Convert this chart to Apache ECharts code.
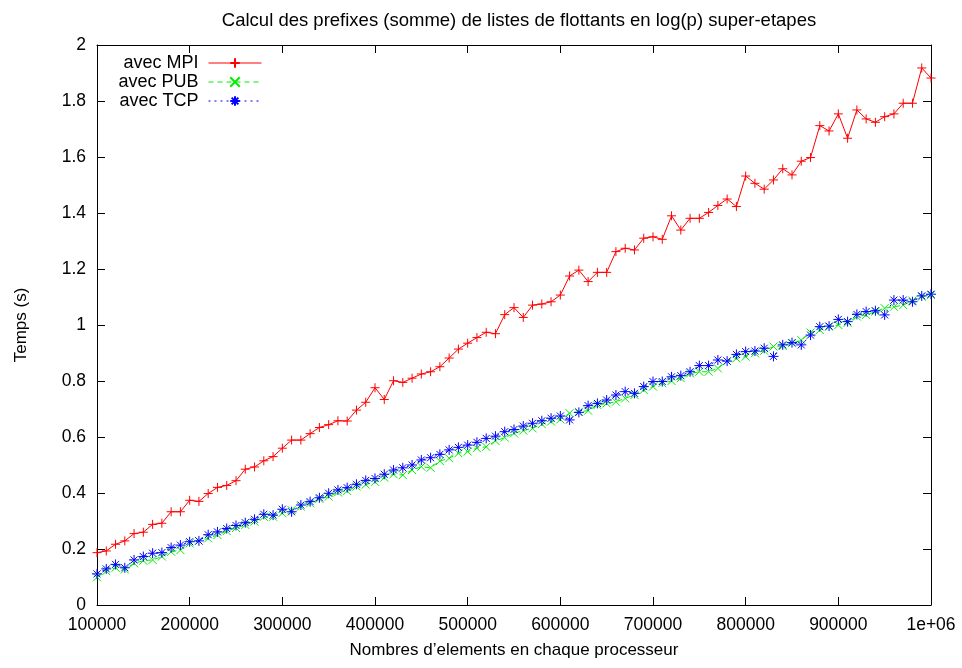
<!DOCTYPE html>
<html>
<head>
<meta charset="utf-8">
<script src="https://cdn.jsdelivr.net/npm/echarts@6/dist/echarts.min.js"></script>
<style>
html,body{margin:0;padding:0;background:#fff;}
#chart{width:962px;height:668px;}
</style>
</head>
<body>
<div id="chart"></div>
<script>
var titleText = "Calcul des prefixes (somme) de listes de flottants en log(p) super-etapes";
var xAxisName = "Nombres d\u2019elements en chaque processeur";
var yAxisName = "Temps (s)";
var seriesNames = ["avec MPI", "avec PUB", "avec TCP"];

// x positions: 100000 .. 1000000 step 10000
var xValues = [];
for (var k = 0; k <= 90; k++) xValues.push(100000 + 10000 * k);

var mpi = [0.187,0.193,0.217,0.229,0.255,0.260,0.288,0.292,0.333,0.333,
0.374,0.370,0.398,0.420,0.427,0.444,0.485,0.493,0.515,0.530,
0.560,0.589,0.589,0.612,0.634,0.644,0.658,0.657,0.696,0.724,
0.776,0.734,0.801,0.795,0.810,0.825,0.833,0.851,0.882,0.914,
0.935,0.955,0.974,0.969,1.037,1.062,1.027,1.071,1.075,1.083,
1.107,1.175,1.196,1.155,1.188,1.188,1.262,1.274,1.268,1.310,
1.315,1.306,1.390,1.339,1.381,1.381,1.402,1.427,1.450,1.423,
1.532,1.506,1.485,1.518,1.558,1.536,1.585,1.598,1.712,1.693,
1.754,1.667,1.768,1.736,1.724,1.744,1.754,1.792,1.792,1.918,
1.882];

var pub = [0.099,0.121,0.133,0.127,0.149,0.158,0.161,0.173,0.190,0.196,
0.220,0.229,0.238,0.250,0.264,0.275,0.286,0.298,0.315,0.315,
0.328,0.339,0.351,0.363,0.379,0.387,0.402,0.407,0.423,0.430,
0.440,0.455,0.467,0.464,0.482,0.494,0.490,0.514,0.524,0.542,
0.548,0.560,0.565,0.586,0.598,0.613,0.623,0.631,0.646,0.655,
0.663,0.685,0.690,0.694,0.714,0.720,0.726,0.738,0.750,0.768,
0.780,0.792,0.800,0.810,0.827,0.833,0.833,0.845,0.871,0.881,
0.887,0.899,0.908,0.923,0.925,0.935,0.946,0.973,0.982,0.994,
1.000,1.008,1.030,1.036,1.048,1.060,1.065,1.071,1.087,1.101,
1.107];

var tcp = [0.111,0.129,0.145,0.133,0.161,0.173,0.185,0.187,0.205,0.214,
0.226,0.229,0.251,0.261,0.273,0.284,0.294,0.306,0.324,0.321,
0.342,0.333,0.357,0.369,0.383,0.399,0.411,0.419,0.431,0.445,
0.452,0.467,0.482,0.490,0.500,0.518,0.526,0.538,0.554,0.563,
0.571,0.581,0.595,0.603,0.619,0.627,0.639,0.649,0.658,0.667,
0.675,0.661,0.688,0.712,0.720,0.732,0.750,0.762,0.756,0.780,
0.798,0.798,0.815,0.819,0.833,0.855,0.855,0.875,0.871,0.895,
0.905,0.907,0.917,0.888,0.929,0.937,0.929,0.964,0.994,0.996,
1.020,1.012,1.038,1.048,1.051,1.036,1.089,1.089,1.083,1.104,
1.110];

function pairs(ys){ return xValues.map(function(x,i){ return [x, ys[i]]; }); }

var FONT = "'Liberation Sans', Arial, Helvetica, sans-serif";
var FS = 18;
var colors = ['#ff0000', '#00ee00', '#0000ff'];
var symbols = [
  'path://M5,0L5,10M0,5L10,5',
  'path://M0,0L10,10M10,0L0,10',
  'path://M5,0L5,10M0,5L10,5M1.5,1.5L8.5,8.5M8.5,1.5L1.5,8.5'
];
var dashes = ['solid', [5,4], [2,4]];
var symSizes = [9, 8, 10];
var dataSets = [mpi, pub, tcp];

var chart = echarts.init(document.getElementById('chart'), null, {renderer:'canvas'});

function axisCommon(){
  return {
    axisLine:{show:true, onZero:false, lineStyle:{color:'#000', width:1}},
    axisTick:{show:true, inside:true, length:8, lineStyle:{color:'#000', width:1}},
    splitLine:{show:false}
  };
}

var xMain = Object.assign(axisCommon(), {
  type:'value', position:'bottom', min:100000, max:1000000, interval:100000,
  name:xAxisName, nameLocation:'middle', nameGap:37,
  nameTextStyle:{fontFamily:FONT, fontSize:FS-1, color:'#000'},
  axisLabel:{show:true, margin:11, fontFamily:FONT, fontSize:FS-0.5, color:'#000',
    formatter:function(v){ return v >= 1000000 ? '1e+06' : String(v); }}
});
var xTop = Object.assign(axisCommon(), {
  type:'value', position:'top', min:100000, max:1000000, interval:100000,
  axisLabel:{show:false}
});
var yMain = Object.assign(axisCommon(), {
  type:'value', position:'left', min:0, max:2, interval:0.2,
  name:yAxisName, nameLocation:'middle', nameGap:67, nameRotate:90,
  nameTextStyle:{fontFamily:FONT, fontSize:FS-1, color:'#000'},
  axisLabel:{show:true, margin:11, fontFamily:FONT, fontSize:FS-0.5, color:'#000',
    formatter:function(v){ return String(Math.round(v*10)/10); }}
});
var yRight = Object.assign(axisCommon(), {
  type:'value', position:'right', min:0, max:2, interval:0.2,
  axisLabel:{show:false}
});

var legendTops = [54, 73, 92];
var legends = seriesNames.map(function(n, i){
  return {
    data:[n], orient:'vertical', right:700, top:legendTops[i],
    itemWidth:53, itemHeight:12, padding:0, align:'right',
    lineStyle:{width:1},
    formatter:function(name){ return name + ' '; },
    textStyle:{fontFamily:FONT, fontSize:FS, color:'#000'}
  };
});

var series = seriesNames.map(function(n, i){
  return {
    name:n, type:'line', xAxisIndex:0, yAxisIndex:0,
    data:pairs(dataSets[i]),
    symbol:symbols[i], symbolSize:symSizes[i], showSymbol:true,
    lineStyle:{color:colors[i], width:1, type:dashes[i]},
    itemStyle:{color:colors[i], borderColor:colors[i], borderWidth:1},
    emphasis:{disabled:true},
    animation:false
  };
});

chart.setOption({
  backgroundColor:'#fff',
  animation:false,
  textStyle:{fontFamily:FONT},
  title:{text:titleText, left:514, top:6, textAlign:'center',
    textStyle:{fontFamily:FONT, fontSize:18.5, fontWeight:'normal', color:'#000'}},
  legend:legends,
  grid:{left:97, right:31, top:45, bottom:63, containLabel:false, outerBoundsMode:'none'},
  xAxis:[xMain, xTop],
  yAxis:[yMain, yRight],
  series:series
});
</script>
</body>
</html>
